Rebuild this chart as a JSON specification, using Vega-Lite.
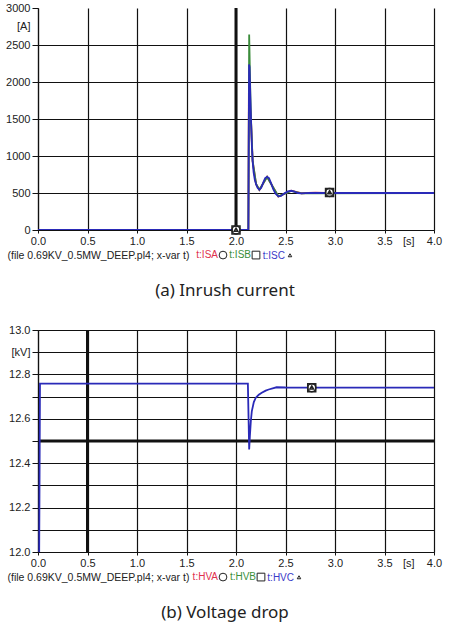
{
  "$schema": "https://vega.github.io/schema/vega-lite/v6.json",
  "description": "Inrush current and voltage drop (ATP plots)",
  "background": "white",
  "padding": {"top": 2, "left": 5, "right": 8, "bottom": 8},
  "spacing": 25,
  "datasets": {
    "markersA": [
      {"s": "t:ISA", "t": 2.0, "v": 0},
      {"s": "t:ISB", "t": 2.0, "v": 0},
      {"s": "t:ISC", "t": 2.0, "v": 0},
      {"s": "t:ISA", "t": 2.945, "v": 507},
      {"s": "t:ISB", "t": 2.945, "v": 507},
      {"s": "t:ISC", "t": 2.945, "v": 507}
    ],
    "markersB": [
      {"s": "t:HVA", "t": 2.765, "v": 12.74},
      {"s": "t:HVB", "t": 2.765, "v": 12.74},
      {"s": "t:HVC", "t": 2.765, "v": 12.74}
    ]
  },
  "config": {
    "view": {"stroke": null},
    "font": "Liberation Sans",
    "axis": {
      "labelFont": "Liberation Sans",
      "labelFontSize": 11,
      "labelColor": "#222",
      "labelFlush": false,
      "labelOverlap": false,
      "tickCount": 20,
      "domainColor": "#111",
      "domainWidth": 1.2,
      "gridColor": "#111",
      "gridOpacity": 1,
      "gridWidth": 1.2,
      "tickColor": "#111",
      "titleFont": "Liberation Sans",
      "titleFontSize": 10.5,
      "titleFontWeight": "normal",
      "titleColor": "#222"
    },
    "legend": {
      "orient": "none",
      "direction": "horizontal",
      "labelFont": "Liberation Sans",
      "labelFontSize": 10,
      "labelAlign": "right",
      "labelOffset": -10,
      "columnPadding": 0,
      "symbolSize": 60,
      "symbolStrokeWidth": 1
    },
    "title": {"font": "Noto Sans", "fontSize": 17, "fontWeight": "normal", "color": "#222"}
  },
  "resolve": {
    "scale": {"color": "independent", "shape": "independent"},
    "legend": {"shape": "independent"}
  },
  "vconcat": [
    {
      "width": 396,
      "height": 222,
      "title": {"text": "(a) Inrush current", "orient": "bottom", "offset": 22, "dx": -11},
      "layer": [
        {
          "data": {"values": [{"t": 2.0}]},
          "mark": {"type": "rule", "color": "#111", "strokeWidth": 3},
          "encoding": {
            "x": {"field": "t", "type": "quantitative", "scale": {"domain": [0, 4], "nice": false}}
          }
        },
        {
          "data": {
            "values": [
              {"s": "t:ISA", "t": 0, "v": 0},
              {"s": "t:ISA", "t": 2.125, "v": 0},
              {"s": "t:ISA", "t": 2.13, "v": 1850},
              {"s": "t:ISA", "t": 2.14, "v": 1700},
              {"s": "t:ISA", "t": 2.152, "v": 1460},
              {"s": "t:ISA", "t": 2.168, "v": 930},
              {"s": "t:ISA", "t": 2.203, "v": 618},
              {"s": "t:ISA", "t": 2.236, "v": 542},
              {"s": "t:ISA", "t": 2.314, "v": 720},
              {"s": "t:ISA", "t": 2.428, "v": 452},
              {"s": "t:ISA", "t": 2.557, "v": 532},
              {"s": "t:ISA", "t": 2.66, "v": 497},
              {"s": "t:ISA", "t": 2.8, "v": 505},
              {"s": "t:ISA", "t": 2.9, "v": 500},
              {"s": "t:ISA", "t": 4.0, "v": 500},
              {"s": "t:ISB", "t": 0, "v": 0},
              {"s": "t:ISB", "t": 2.125, "v": 0},
              {"s": "t:ISB", "t": 2.133, "v": 2641},
              {"s": "t:ISB", "t": 2.138, "v": 2300},
              {"s": "t:ISB", "t": 2.145, "v": 1820},
              {"s": "t:ISB", "t": 2.152, "v": 1480},
              {"s": "t:ISB", "t": 2.168, "v": 935},
              {"s": "t:ISB", "t": 2.203, "v": 622},
              {"s": "t:ISB", "t": 2.236, "v": 545},
              {"s": "t:ISB", "t": 2.314, "v": 716},
              {"s": "t:ISB", "t": 2.428, "v": 456},
              {"s": "t:ISB", "t": 2.557, "v": 529},
              {"s": "t:ISB", "t": 2.66, "v": 495},
              {"s": "t:ISB", "t": 4.0, "v": 500},
              {"s": "t:ISC", "t": 0, "v": 0},
              {"s": "t:ISC", "t": 2.125, "v": 0},
              {"s": "t:ISC", "t": 2.132, "v": 2237},
              {"s": "t:ISC", "t": 2.137, "v": 2200},
              {"s": "t:ISC", "t": 2.145, "v": 1800},
              {"s": "t:ISC", "t": 2.152, "v": 1473},
              {"s": "t:ISC", "t": 2.16, "v": 1150},
              {"s": "t:ISC", "t": 2.168, "v": 934},
              {"s": "t:ISC", "t": 2.178, "v": 780},
              {"s": "t:ISC", "t": 2.19, "v": 680},
              {"s": "t:ISC", "t": 2.203, "v": 620},
              {"s": "t:ISC", "t": 2.218, "v": 570},
              {"s": "t:ISC", "t": 2.236, "v": 545},
              {"s": "t:ISC", "t": 2.255, "v": 570},
              {"s": "t:ISC", "t": 2.275, "v": 640},
              {"s": "t:ISC", "t": 2.295, "v": 700},
              {"s": "t:ISC", "t": 2.314, "v": 718},
              {"s": "t:ISC", "t": 2.333, "v": 700},
              {"s": "t:ISC", "t": 2.355, "v": 630},
              {"s": "t:ISC", "t": 2.375, "v": 555},
              {"s": "t:ISC", "t": 2.4, "v": 490},
              {"s": "t:ISC", "t": 2.428, "v": 455},
              {"s": "t:ISC", "t": 2.455, "v": 460},
              {"s": "t:ISC", "t": 2.49, "v": 495},
              {"s": "t:ISC", "t": 2.525, "v": 522},
              {"s": "t:ISC", "t": 2.557, "v": 530},
              {"s": "t:ISC", "t": 2.59, "v": 518},
              {"s": "t:ISC", "t": 2.625, "v": 500},
              {"s": "t:ISC", "t": 2.66, "v": 494},
              {"s": "t:ISC", "t": 2.7, "v": 498},
              {"s": "t:ISC", "t": 2.75, "v": 502},
              {"s": "t:ISC", "t": 4.0, "v": 500}
            ]
          },
          "mark": {"type": "line", "strokeWidth": 1.8, "clip": true},
          "encoding": {
            "x": {
              "field": "t",
              "type": "quantitative",
              "scale": {"domain": [0, 4], "nice": false},
              "axis": {
                "values": [0, 0.5, 1, 1.5, 2, 2.5, 3, 3.5, 4, 3.74],
                "labelExpr": "datum.value == 3.74 ? '[s]' : format(datum.value, '.1f')",
                "gridColor": {"condition": {"test": "datum.value == 3.74", "value": "transparent"}, "value": "#111"},
                "tickColor": {"condition": {"test": "datum.value == 3.74", "value": "transparent"}, "value": "#111"},
                "tickSize": 3,
                "labelPadding": 2,
                "title": "(file 0.69KV_0.5MW_DEEP.pl4; x-var t)",
                "titleX": -31,
                "titleY": 25,
                "titleAlign": "left",
                "titleBaseline": "middle"
              }
            },
            "y": {
              "field": "v",
              "type": "quantitative",
              "scale": {"domain": [0, 3000], "nice": false},
              "axis": {
                "values": [0, 500, 1000, 1500, 2000, 2500, 2750, 3000],
                "labelExpr": "datum.value == 2750 ? '[A]' : datum.value",
                "gridColor": {"condition": {"test": "datum.value >= 2750", "value": "transparent"}, "value": "#111"},
                "tickColor": {"condition": {"test": "datum.value == 2750", "value": "transparent"}, "value": "#111"},
                "tickSize": 6,
                "labelPadding": 2,
                "title": null
              }
            },
            "color": {
              "field": "s",
              "type": "nominal",
              "scale": {"range": ["#d9304f", "#3b8c3b", "#2a2ab8"]},
              "legend": null
            }
          }
        },
        {
          "data": {"name": "markersA"},
          "transform": [{"filter": "datum.s == 't:ISB'"}],
          "mark": {"type": "point", "shape": "square", "filled": true, "color": "white", "size": 64, "opacity": 1},
          "encoding": {
            "x": {"field": "t", "type": "quantitative"},
            "y": {"field": "v", "type": "quantitative"}
          }
        },
        {
          "data": {"name": "markersA"},
          "mark": {"type": "point", "filled": false, "color": "#222", "strokeWidth": 1.5, "opacity": 1, "size": 64},
          "encoding": {
            "x": {"field": "t", "type": "quantitative"},
            "y": {"field": "v", "type": "quantitative"},
            "shape": {
              "field": "s",
              "type": "nominal",
              "scale": {"domain": ["t:ISA", "t:ISB", "t:ISC"], "range": ["circle", "square", "M0,-0.45L0.45,0.33L-0.45,0.33Z"]},
              "legend": {
                "orient": "none",
                "legendX": 180,
                "legendY": 242,
                "title": null,
                "symbolStrokeColor": "#222",
                "labelColor": {"expr": "slice(datum.label, -1) == 'A' ? '#e0304e' : slice(datum.label, -1) == 'B' ? '#3a8f3a' : '#3a3ac8'"}
              }
            }
          }
        }
      ]
    },
    {
      "width": 396,
      "height": 222,
      "title": {"text": "(b) Voltage drop", "orient": "bottom", "offset": 22, "dx": -11},
      "layer": [
        {
          "data": {"values": [{"t": 0.5}]},
          "mark": {"type": "rule", "color": "#111", "strokeWidth": 3},
          "encoding": {
            "x": {"field": "t", "type": "quantitative", "scale": {"domain": [0, 4], "nice": false}}
          }
        },
        {
          "data": {"values": [{"v": 12.5}]},
          "mark": {"type": "rule", "color": "#111", "strokeWidth": 3},
          "encoding": {
            "y": {"field": "v", "type": "quantitative", "scale": {"domain": [12, 13], "nice": false, "zero": false}}
          }
        },
        {
          "data": {
            "values": [
              {"s": "t:HVC", "t": 0.012, "v": 12.0},
              {"s": "t:HVC", "t": 0.02, "v": 12.758},
              {"s": "t:HVC", "t": 2.12, "v": 12.758},
              {"s": "t:HVC", "t": 2.127, "v": 12.6},
              {"s": "t:HVC", "t": 2.133, "v": 12.462},
              {"s": "t:HVC", "t": 2.14, "v": 12.52},
              {"s": "t:HVC", "t": 2.15, "v": 12.59},
              {"s": "t:HVC", "t": 2.16, "v": 12.635},
              {"s": "t:HVC", "t": 2.18, "v": 12.675},
              {"s": "t:HVC", "t": 2.2, "v": 12.695},
              {"s": "t:HVC", "t": 2.23, "v": 12.708},
              {"s": "t:HVC", "t": 2.26, "v": 12.717},
              {"s": "t:HVC", "t": 2.3, "v": 12.727},
              {"s": "t:HVC", "t": 2.33, "v": 12.732},
              {"s": "t:HVC", "t": 2.41, "v": 12.742},
              {"s": "t:HVC", "t": 2.5, "v": 12.741},
              {"s": "t:HVC", "t": 4.0, "v": 12.74}
            ]
          },
          "mark": {"type": "line", "strokeWidth": 1.8, "clip": true, "color": "#2a2ab8"},
          "encoding": {
            "x": {
              "field": "t",
              "type": "quantitative",
              "scale": {"domain": [0, 4], "nice": false},
              "axis": {
                "values": [0, 0.5, 1, 1.5, 2, 2.5, 3, 3.5, 4, 3.74],
                "labelExpr": "datum.value == 3.74 ? '[s]' : format(datum.value, '.1f')",
                "gridColor": {"condition": {"test": "datum.value == 3.74", "value": "transparent"}, "value": "#111"},
                "tickColor": {"condition": {"test": "datum.value == 3.74", "value": "transparent"}, "value": "#111"},
                "tickSize": 3,
                "labelPadding": 2,
                "title": "(file 0.69KV_0.5MW_DEEP.pl4; x-var t)",
                "titleX": -31,
                "titleY": 25,
                "titleAlign": "left",
                "titleBaseline": "middle"
              }
            },
            "y": {
              "field": "v",
              "type": "quantitative",
              "scale": {"domain": [12, 13], "nice": false, "zero": false},
              "axis": {
                "values": [12.0, 12.1, 12.2, 12.3, 12.4, 12.5, 12.6, 12.7, 12.8, 12.9, 13.0],
                "labelExpr": "datum.value == 12.9 ? '[kV]' : (round(datum.value * 10) % 2 == 0 ? format(datum.value, '.1f') : '')",
                "tickSize": 6,
                "labelPadding": 2,
                "title": null
              }
            }
          }
        },
        {
          "data": {"name": "markersB"},
          "transform": [{"filter": "datum.s == 't:HVB'"}],
          "mark": {"type": "point", "shape": "square", "filled": true, "color": "white", "size": 64, "opacity": 1},
          "encoding": {
            "x": {"field": "t", "type": "quantitative"},
            "y": {"field": "v", "type": "quantitative"}
          }
        },
        {
          "data": {"name": "markersB"},
          "mark": {"type": "point", "filled": false, "color": "#222", "strokeWidth": 1.5, "opacity": 1, "size": 64},
          "encoding": {
            "x": {"field": "t", "type": "quantitative"},
            "y": {"field": "v", "type": "quantitative"},
            "shape": {
              "field": "s",
              "type": "nominal",
              "scale": {"domain": ["t:HVA", "t:HVB", "t:HVC"], "range": ["circle", "square", "M0,-0.45L0.45,0.33L-0.45,0.33Z"]},
              "legend": {
                "orient": "none",
                "legendX": 180,
                "legendY": 242,
                "title": null,
                "symbolStrokeColor": "#222",
                "labelColor": {"expr": "slice(datum.label, -1) == 'A' ? '#e0304e' : slice(datum.label, -1) == 'B' ? '#3a8f3a' : '#3a3ac8'"}
              }
            }
          }
        }
      ]
    }
  ]
}
